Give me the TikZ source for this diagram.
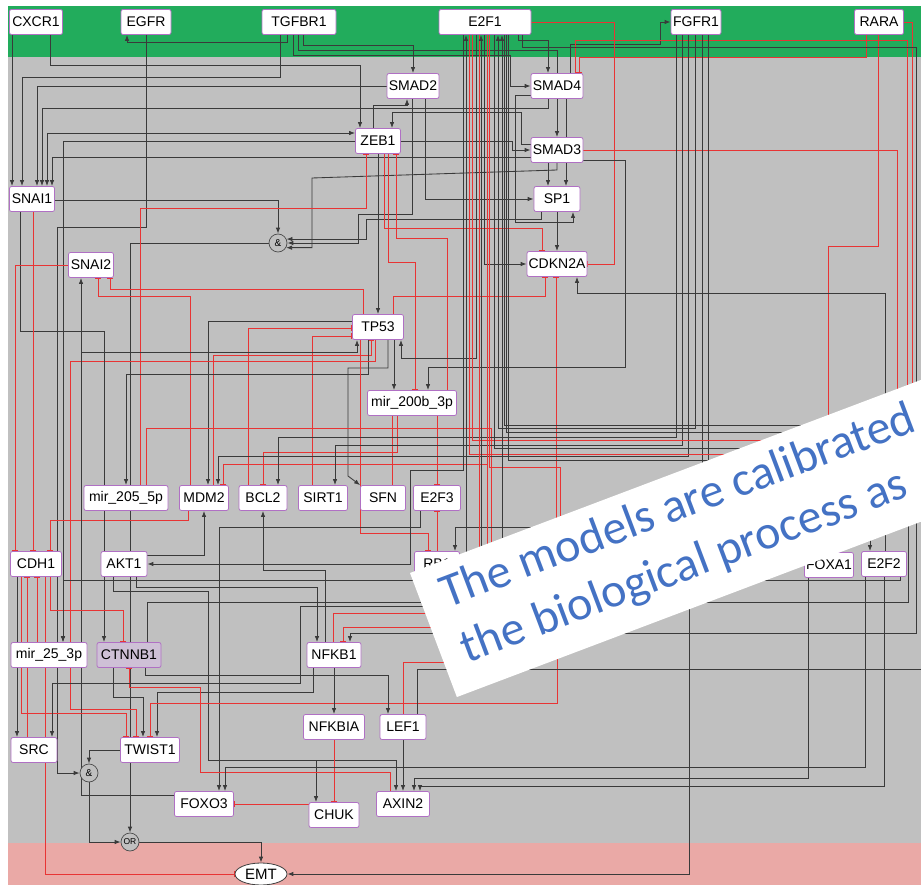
\documentclass[tikz,border=0pt]{standalone}
\usepackage{fontspec}
\setmainfont{Liberation Sans}
\newfontfamily\bannerfont{Carlito}
\usetikzlibrary{arrows.meta,shapes.geometric}
\definecolor{bandgreen}{RGB}{34,172,92}
\definecolor{bandgray}{RGB}{192,192,192}
\definecolor{bandpink}{RGB}{234,169,166}
\definecolor{nodeedge}{RGB}{176,112,196}
\definecolor{wireK}{RGB}{58,58,58}
\definecolor{wireR}{RGB}{232,52,52}
\definecolor{noteblue}{RGB}{68,114,196}
\definecolor{ctnfill}{RGB}{206,192,214}
\pgfdeclarelayer{bg}
\pgfdeclarelayer{wires}
\pgfdeclarelayer{top}
\pgfsetlayers{bg,wires,main,top}

\begin{document}
\begin{tikzpicture}[x=1pt,y=-1pt,
  gene/.style={draw=nodeedge, line width=0.8pt, fill=white, rounded corners=2pt,
    minimum height=25pt, inner sep=1pt, font=\fontsize{14}{16}\selectfont},
  gate/.style={circle, draw=black!70, line width=0.7pt, fill=bandgray, minimum size=18pt,
    inner sep=0pt, font=\fontsize{10}{10}\selectfont},
  act/.style={draw=wireK, line width=0.85pt, -{Latex[length=6pt,width=4.5pt]}},
  actb/.style={draw=wireK, line width=0.85pt, {Latex[length=6pt,width=4.5pt]}-{Latex[length=6pt,width=4.5pt]}},
  lnk/.style={draw=wireK, line width=0.85pt},
  inh/.style={draw=wireR, line width=0.85pt, -{Bar[width=6pt,line width=1pt]}},
  rlnk/.style={draw=wireR, line width=0.85pt},
]
\useasboundingbox (0,0) rectangle (921,885);

% ---------- bands ----------
\begin{pgfonlayer}{bg}
  \fill[white] (0,0) rectangle (921,885);
  \fill[bandgreen] (8,6) rectangle (921,57);
  \fill[bandgray] (8,57) rectangle (921,843);
  \fill[bandpink] (8,843) rectangle (921,885);
\end{pgfonlayer}

% ---------- genes ----------
\node[gene, minimum width=53pt] (CXCR1) at (36,22) {CXCR1};
\node[gene, minimum width=50pt] (EGFR) at (146,22) {EGFR};
\node[gene, minimum width=74pt] (TGFBR1) at (299,22) {TGFBR1};
\node[gene, minimum width=92pt] (E2F1) at (485,22) {E2F1};
\node[gene, minimum width=50pt] (FGFR1) at (696,22) {FGFR1};
\node[gene, minimum width=49pt] (RARA) at (879,22) {RARA};
\node[gene, minimum width=52pt] (SMAD2) at (413,86) {SMAD2};
\node[gene, minimum width=45pt] (ZEB1) at (378,141) {ZEB1};
\node[gene, minimum width=52pt] (SMAD4) at (557,86) {SMAD4};
\node[gene, minimum width=52pt] (SMAD3) at (557,150) {SMAD3};
\node[gene, minimum width=46pt] (SP1) at (557,199) {SP1};
\node[gene, minimum width=60pt] (CDKN2A) at (557,264) {CDKN2A};
\node[gene, minimum width=45pt] (SNAI1) at (32,199) {SNAI1};
\node[gene, minimum width=45pt] (SNAI2) at (91,265) {SNAI2};
\node[gene, minimum width=51pt] (TP53) at (378,327) {TP53};
\node[gene, minimum width=89pt] (mirB) at (412,403) {mir\_200b\_3p};
\node[gene, minimum width=84pt] (mirA) at (126,498) {mir\_205\_5p};
\node[gene, minimum width=49pt] (MDM2) at (204,498) {MDM2};
\node[gene, minimum width=48pt] (BCL2) at (263,498) {BCL2};
\node[gene, minimum width=49pt] (SIRT1) at (323,498) {SIRT1};
\node[gene, minimum width=45pt] (SFN) at (383,498) {SFN};
\node[gene, minimum width=47pt] (E2F3) at (437,498) {E2F3};
\node[gene, minimum width=51pt] (CDH1) at (36,564) {CDH1};
\node[gene, minimum width=46pt] (AKT1) at (124,564) {AKT1};
\node[gene, minimum width=45pt] (RB1) at (437,564) {RB1};
\node[gene, minimum width=49pt] (FOXA1) at (829,565) {FOXA1};
\node[gene, minimum width=45pt] (E2F2) at (884,564) {E2F2};
\node[gene, minimum width=76pt] (mirC) at (49,655) {mir\_25\_3p};
\node[gene, minimum width=64pt, fill=ctnfill] (CTNNB1) at (129,655) {CTNNB1};
\node[gene, minimum width=54pt] (NFKB1) at (334,655) {NFKB1};
\node[gene, minimum width=61pt] (NFKBIA) at (334,727) {NFKBIA};
\node[gene, minimum width=46pt] (LEF1) at (403,727) {LEF1};
\node[gene, minimum width=46pt] (SRC) at (34,750) {SRC};
\node[gene, minimum width=59pt] (TWIST1) at (150,750) {TWIST1};
\node[gene, minimum width=59pt] (FOXO3) at (204,804) {FOXO3};
\node[gene, minimum width=50pt] (CHUK) at (334,815) {CHUK};
\node[gene, minimum width=53pt] (AXIN2) at (403,804) {AXIN2};
\node[gate] (and1) at (278,243) {\&};
\node[gate] (and2) at (89,773) {\&};
\node[gate, font=\fontsize{8.5}{9}\selectfont] (OR) at (130,842) {OR};
\node[ellipse, draw=black!75, line width=0.8pt, fill=white, minimum width=52pt, minimum height=22pt,
  inner sep=0pt, font=\fontsize{15}{16}\selectfont] (EMT) at (261,874) {EMT};

% loose ends of wires that run under the note
\coordinate (h1) at (897,470);
\coordinate (h2) at (828,450);
\coordinate (h3) at (907,470);
\coordinate (h4) at (912,470);
\coordinate (h5) at (708,480);
\coordinate (h6) at (689,590);
\coordinate (h7) at (480,606);
\coordinate (h9) at (480,662);
\coordinate (h10) at (557,640);
\coordinate (h11) at (908,480);
\coordinate (h12) at (870,525);
\coordinate (h13) at (556,560);
\coordinate (hM) at (487,560);
\coordinate (hR) at (491,560);
\coordinate (hNa) at (485,613);
\coordinate (hNb) at (485,627);
\coordinate (hb1) at (466,565);
\coordinate (hb2) at (479,565);
\coordinate (hb3) at (481,565);
\coordinate (hb4) at (560,600);
\coordinate (hb5) at (502,565);
\coordinate (eA) at (921,432);
\coordinate (eB) at (921,440);
\coordinate (eC) at (921,448);
\coordinate (eD) at (921,454);
\coordinate (eE) at (921,460);
\coordinate (eG) at (921,425);
\coordinate (eF) at (921,669);
\coordinate (brT) at (81,352);

% ---------- wires ----------
\begin{pgfonlayer}{wires}
% receptors
\draw[act] (12,0 |- CXCR1.south) -- (12,0 |- SNAI1.north);
\draw[act] (50,0 |- CXCR1.south) |- (360,65) -- (360,0 |- ZEB1.north);
\draw[act] (287,0 |- TGFBR1.south) |- (127,42) -- (127,0 |- EGFR.south);
\draw[act] (280,0 |- TGFBR1.south) |- (22,77) -- (22,0 |- SNAI1.north);
\draw[act] (303,0 |- TGFBR1.south) |- (413,45) -- (413,0 |- SMAD2.north);
\draw[act] (298,0 |- TGFBR1.south) |- (557,50) -- (557,0 |- SMAD3.north);
\draw[act] (293,0 |- TGFBR1.south) |- (510,55) |- (SMAD4.west);
\draw[act] (518,0 |- E2F1.south) |- (548,40) -- (548,0 |- SMAD4.north);
\draw[act] (570,0 |- SMAD4.north) |- (660,44) |- (FGFR1.west);
\draw[inh] (866,0 |- RARA.south) |- (579,57) -- (579,0 |- SMAD4.north);
\draw[rlnk] (575,0 |- SMAD4.north) |- (907,40) -- (h3);
\draw[rlnk] (RARA.east) -- (912,22) -- (h4);
\draw[rlnk] (878,0 |- RARA.south) |- (828,246) -- (h2);
\draw[act] (522,0 |- E2F1.south) |- (916,47) |- (350,633) -- (350,0 |- NFKB1.north);
% SNAI1 / ZEB1 / SMADs
\draw[act] (SMAD2.west) -| (37,0 |- SNAI1.north);
\draw[act] (548,0 |- SMAD4.south) |- (42,108) -- (42,0 |- SNAI1.north);
\draw[actb] (47,0 |- SNAI1.north) |- (ZEB1.west |- 0,133);
\draw[act] (ZEB1.west |- 0,141) -| (63,0 |- mirC.north);
\draw[act] (SMAD3.west |- 0,157) -| (52,0 |- SNAI1.north);
\draw[act] (373,0 |- ZEB1.north) |- (407,105) -- (407,0 |- SMAD2.south);
\draw[act] (SMAD3.west |- 0,144) -- (521,144) |- (392,112) -- (392,0 |- ZEB1.north);
\draw[act] (ZEB1.east) -- (512,141) |- (SMAD3.west);
\draw[act] (SMAD4.west |- 0,95) -- (515,95) |- (573,222) -- (573,0 |- SP1.south);
\draw[act] (425,0 |- SMAD2.south) |- (SP1.west);
\draw[act] (566,0 |- SMAD4.south) -- (566,0 |- SP1.north);
\draw[act] (548,0 |- SMAD3.south) -- (548,0 |- SP1.north);
\draw[act] (557,0 |- SP1.south) -- (557,0 |- CDKN2A.north);
% first AND gate
\draw[act] (SNAI1.east |- 0,200) -| (and1.north);
\draw[act] (412,0 |- SMAD2.south) |- (358,214) |- (and1.east);
\draw[act] (557,0 |- SMAD3.south) -- (557,170) -- (312,178) |- (and1.-30);
\draw[act] (541,0 |- SP1.south) |- (366,219) |- (and1.25);
\draw[act] (and1.west) -| (130,0 |- OR.north);
\draw[act] (146,0 |- EGFR.south) |- (57,227) |- (and2.west);
% CDKN2A
\draw[inh] (384,0 |- ZEB1.south) |- (542,228) -- (542,0 |- CDKN2A.north);
\draw[inh] (E2F1.east) -- (614,22) |- (CDKN2A.east);
\draw[act] (484,0 |- E2F1.south) |- (CDKN2A.west);
\draw[act] (885,0 |- E2F2.north) |- (577,293) -- (577,0 |- CDKN2A.south);
\draw[inh] (393,0 |- TP53.north) |- (545,296) -- (545,0 |- CDKN2A.south);
\draw[inh] (h13) -- (556,0 |- CDKN2A.south);
\draw[act] (SMAD3.east |- 0,160) -- (625,160) |- (428,367) -- (428,0 |- mirB.north);
\draw[rlnk] (SMAD3.east) -- (897,150) -- (h1);
% TP53 neighbourhood
\draw[act] (378,0 |- ZEB1.south) -- (378,0 |- TP53.north);
\draw[inh] (140,0 |- mirA.north) |- (366,208) -- (366,0 |- ZEB1.south);
\draw[inh] (388,0 |- ZEB1.south) |- (415,262) -- (415,0 |- mirB.north);
\draw[inh] (447,0 |- mirB.north) |- (396,238) -- (396,0 |- ZEB1.south);
\draw[act] (TP53.west |- 0,321) -| (208,0 |- MDM2.north);
\draw[inh] (248,0 |- BCL2.north) |- (TP53.west |- 0,328);
\draw[inh] (312,0 |- SIRT1.north) |- (TP53.west |- 0,336);
\draw[inh] (363,0 |- TP53.north) |- (110,289) -- (110,0 |- SNAI2.south);
\draw[inh] (190,0 |- MDM2.north) |- (98,296) -- (98,0 |- SNAI2.south);
\draw[inh] (213,0 |- MDM2.north) |- (371,355) -- (371,0 |- TP53.south);
\draw[inh] (188,0 |- MDM2.south) |- (50,520) -- (50,0 |- CDH1.north);
\draw[act] (368,0 |- TP53.south) |- (126,374) -- (126,0 |- mirA.north);
\draw[act] (394,0 |- TP53.south) -- (394,0 |- mirB.north);
\draw[act] (388,0 |- TP53.south) |- (348,368) -- (348,476) -- (SFN.north west);
\draw[act] (476,0 |- E2F1.south) |- (401,358) -- (401,0 |- TP53.south);
\draw[inh] (375,0 |- TP53.south) |- (70,361) |- (136,709) -- (136,0 |- TWIST1.north);
\draw[act] (FOXO3.west |- 0,795) -| (81,0 |- SNAI2.south);
\draw[act] (brT) -| (357,0 |- TP53.south);
\draw[inh] (397,0 |- mirB.south) |- (263,452) -- (263,0 |- BCL2.north);
\draw[rlnk] (392,0 |- mirB.south) -- (392,0 |- SFN.north);
\draw[inh] (437,0 |- mirB.south) -- (437,0 |- E2F3.north);
\draw[inh] (437,0 |- RB1.north) -- (437,0 |- E2F3.south);
\draw[inh] (360,0 |- TP53.south) |- (428,533) -- (428,0 |- RB1.north);
\draw[rlnk] (146,0 |- mirA.north) |- (491,428) -- (hR);
\draw[inh] (hM) |- (223,464) -- (223,0 |- MDM2.north);
% FGFR1 fan
\draw[act] (676,0 |- FGFR1.south) |- (278,437) -- (278,0 |- BCL2.north);
\draw[act] (682,0 |- FGFR1.south) |- (335,445) -- (335,0 |- SIRT1.north);
\draw[act] (688,0 |- FGFR1.south) |- (218,456) -- (218,0 |- MDM2.north);
\draw[act] (695,0 |- FGFR1.south) |- (498,428) -- (498,0 |- E2F1.south);
\draw[act] (702,0 |- FGFR1.south) |- (455,527) -- (455,0 |- RB1.north);
\draw[lnk] (708,0 |- FGFR1.south) -- (h5);
% E2F1 bundle
\draw[act] (463,0 |- E2F1.south) |- (410,470) |- (AKT1.east);
\draw[act] (hb1) -- (466,0 |- E2F1.south);
\draw[rlnk] (469,0 |- E2F1.south) |- (eD);
\draw[rlnk] (472,0 |- E2F1.south) |- (eB);
\draw[rlnk] (479,0 |- E2F1.south) -- (hb2);
\draw[act] (hb3) -- (481,0 |- E2F1.south);
\draw[rlnk] (487,0 |- E2F1.south) -- (hM);
\draw[rlnk] (489,0 |- E2F1.south) |- (560,467) -- (hb4);
\draw[lnk] (494,0 |- E2F1.south) |- (eC);
\draw[act] (hb5) -- (502,0 |- E2F1.south);
\draw[lnk] (506,0 |- E2F1.south) |- (eA);
\draw[lnk] (508,0 |- E2F1.south) |- (eE);
\draw[lnk] (504,0 |- E2F1.south) |- (eG);
% AKT1 and below
\draw[act] (AKT1.east |- 0,555) -| (204,0 |- MDM2.south);
\draw[act] (136,0 |- AKT1.south) |- (317,587) -- (317,0 |- NFKB1.north);
\draw[act] (113,0 |- AKT1.south) |- (208,591) |- (396,760) -- (396,0 |- AXIN2.north);
\draw[act] (113,0 |- AKT1.south) |- (208,591) |- (316,760) -- (316,0 |- CHUK.north);
\draw[act] (325,0 |- NFKB1.north) |- (263,570) -- (263,0 |- BCL2.south);
\draw[act] (420,0 |- E2F3.south) |- (219,527) -- (219,0 |- FOXO3.north);
\draw[act] (20,0 |- SNAI1.south) |- (104,331) -- (104,0 |- CTNNB1.north);
% CDH1 block
\draw[inh] (33,0 |- SNAI1.south) -- (33,0 |- CDH1.north);
\draw[inh] (SNAI2.west) -| (15,0 |- CDH1.north);
\draw[act] (17,0 |- CDH1.south) -- (17,0 |- SRC.north);
\draw[inh] (27,0 |- SRC.north) -- (27,0 |- CDH1.south);
\draw[inh] (37,0 |- mirC.north) -- (37,0 |- CDH1.south);
\draw[inh] (50,0 |- CDH1.south) |- (123,610) -- (123,0 |- CTNNB1.north);
\draw[inh] (45,0 |- CDH1.south) |- (EMT.west);
\draw[inh] (21,0 |- CDH1.south) |- (126,713) -- (126,0 |- TWIST1.north);
\draw[act] (900,0 |- E2F2.south) |- (63,580) -- (63,0 |- mirC.north);
% CTNNB1 / TWIST1 / NFKB1
\draw[act] (113,0 |- CTNNB1.south) |- (143,697) -- (143,0 |- TWIST1.north);
\draw[act] (313,0 |- NFKB1.south) |- (157,692) -- (157,0 |- TWIST1.north);
\draw[inh] (h10) |- (150,703) -- (150,0 |- TWIST1.north);
\draw[inh] (390,0 |- AXIN2.north) |- (200,772) |- (129,687) -- (129,0 |- CTNNB1.south);
\draw[act] (145,0 |- CTNNB1.south) |- (388,675) -- (388,0 |- LEF1.north);
\draw[act] (334,0 |- NFKB1.south) -- (334,0 |- NFKBIA.north);
\draw[inh] (334,0 |- NFKBIA.south) -- (334,0 |- CHUK.north);
\draw[inh] (CHUK.west |- 0,804) -- (FOXO3.east |- 0,804);
\draw[act] (403,0 |- LEF1.south) -- (403,0 |- AXIN2.north);
\draw[act] (865,0 |- E2F2.south) |- (225,767) -- (225,0 |- FOXO3.north);
\draw[act] (808,0 |- FOXA1.south) |- (414,778) -- (414,0 |- AXIN2.north);
\draw[act] (884,0 |- E2F2.south) |- (420,786) -- (420,0 |- AXIN2.north);
\draw[lnk] (h11) |- (147,602) -- (147,0 |- CTNNB1.north);
\draw[act] (h7) -- (300,606) |- (52,683) -- (52,0 |- SRC.north);
\draw[rlnk] (hNa) -| (333,0 |- NFKB1.north);
\draw[inh] (hNb) -| (343,0 |- NFKB1.north);
\draw[rlnk] (403,0 |- LEF1.north) |- (h9);
\draw[lnk] (417,0 |- LEF1.north) |- (eF);
\draw[act] (h12) -- (870,0 |- E2F2.north);
\draw[act] (h6) |- (EMT.east);
% gates to EMT
\draw[act] (TWIST1.west) -| (and2.north);
\draw[act] (and2.south) |- (OR.west);
\draw[act] (OR.east) -| (EMT.north);
\end{pgfonlayer}

% ---------- note ----------
\begin{pgfonlayer}{top}
\begin{scope}
  \clip (0,0) rectangle (921,885);
  \begin{scope}[shift={(410,573)}, rotate=20.7]
    \fill[white] (0,0) rectangle (720,132.6);
    \node[transform shape, anchor=base west, inner sep=0pt, text=noteblue,
      font=\bannerfont\fontsize{48}{58}\selectfont] (noteA) at (22,46) {The models are calibrated};
    \node[transform shape, anchor=base west, inner sep=0pt, text=noteblue,
      font=\bannerfont\fontsize{48}{58}\selectfont] (noteB) at (22,105) {the biological process as};
  \end{scope}
\end{scope}
\end{pgfonlayer}
\end{tikzpicture}
\end{document}
